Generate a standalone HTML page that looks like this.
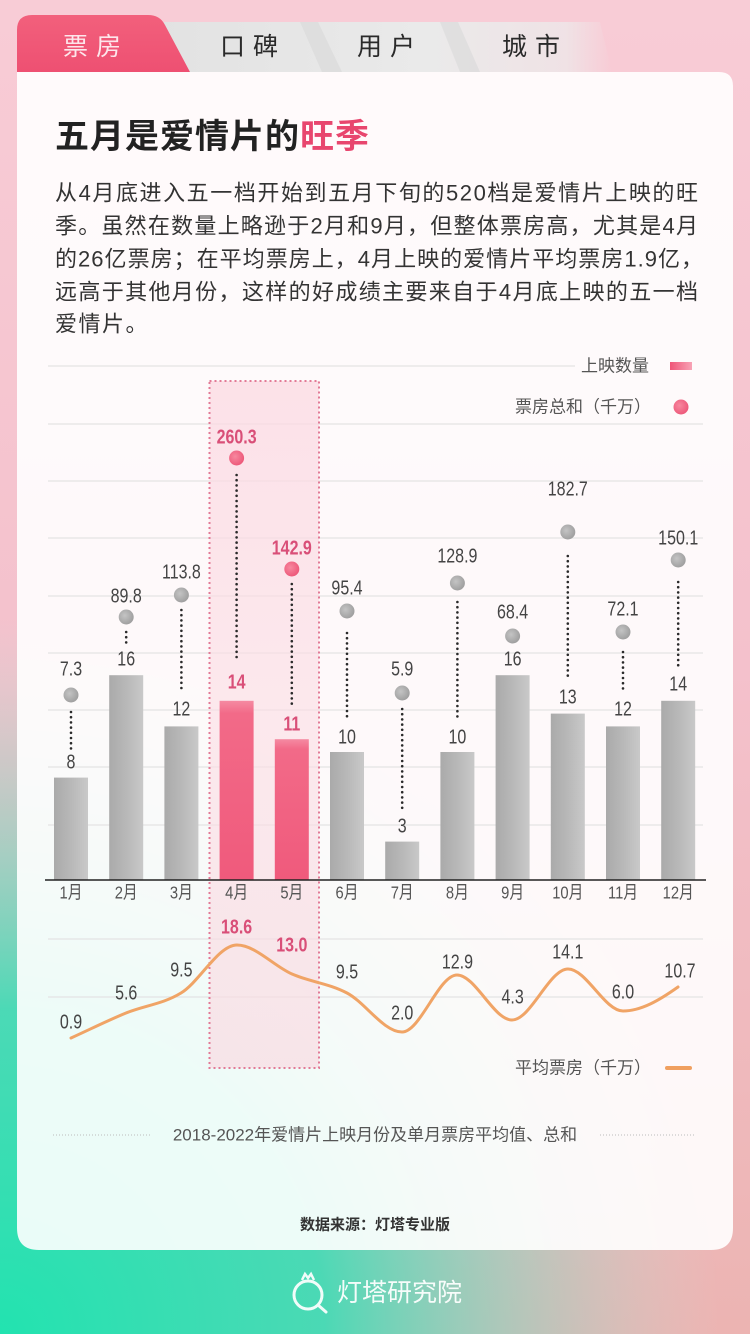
<!DOCTYPE html>
<html><head><meta charset="utf-8">
<style>
html,body{margin:0;padding:0;width:750px;height:1334px;overflow:hidden;}
svg{display:block;}
.cn{font-family:"Liberation Sans","Noto Sans CJK SC",sans-serif;}
.num{font-family:"Liberation Sans Narrow","Liberation Sans","Noto Sans CJK SC",sans-serif;}
</style></head>
<body>
<svg width="750" height="1334" viewBox="0 0 750 1334" xmlns="http://www.w3.org/2000/svg">
<defs>
  <linearGradient id="bg" x1="0" y1="0" x2="0" y2="1">
    <stop offset="0" stop-color="#f8ccd6"/>
    <stop offset="0.5" stop-color="#f4c1cc"/>
    <stop offset="1" stop-color="#ecb4b2"/>
  </linearGradient>
  <radialGradient id="teal" cx="0" cy="1334" r="720" gradientUnits="userSpaceOnUse">
    <stop offset="0" stop-color="#22e3b0" stop-opacity="1"/>
    <stop offset="0.45" stop-color="#3ddcb5" stop-opacity="0.92"/>
    <stop offset="0.8" stop-color="#8ad9c6" stop-opacity="0.35"/>
    <stop offset="1" stop-color="#bfe3d8" stop-opacity="0"/>
  </radialGradient>
  <linearGradient id="tabActive" x1="0" y1="0" x2="0" y2="1">
    <stop offset="0" stop-color="#f2607c"/>
    <stop offset="1" stop-color="#ee5072"/>
  </linearGradient>
  <linearGradient id="tabGray" x1="0" y1="0" x2="1" y2="0">
    <stop offset="0" stop-color="#e2e2e2"/>
    <stop offset="0.6" stop-color="#eaeaea"/>
    <stop offset="0.9" stop-color="#ececec" stop-opacity="0.7"/>
    <stop offset="1" stop-color="#eeeeee" stop-opacity="0"/>
  </linearGradient>
  <linearGradient id="gbar" x1="0" y1="0" x2="1" y2="0">
    <stop offset="0" stop-color="#aaaaaa"/>
    <stop offset="0.5" stop-color="#b8b8b8"/>
    <stop offset="1" stop-color="#c9c9c9"/>
  </linearGradient>
  <linearGradient id="pbar" x1="0" y1="0" x2="0" y2="1">
    <stop offset="0" stop-color="#f58aa2"/>
    <stop offset="0.07" stop-color="#f26a88"/>
    <stop offset="1" stop-color="#f05a7c"/>
  </linearGradient>
  <linearGradient id="psw" x1="0" y1="0" x2="1" y2="0">
    <stop offset="0" stop-color="#ef5578"/>
    <stop offset="1" stop-color="#f8a3b6"/>
  </linearGradient>
  <radialGradient id="gdot" cx="0.4" cy="0.4" r="0.7">
    <stop offset="0" stop-color="#c4c4c4"/>
    <stop offset="1" stop-color="#9a9a9a"/>
  </radialGradient>
  <radialGradient id="pdot" cx="0.4" cy="0.4" r="0.7">
    <stop offset="0" stop-color="#f7889f"/>
    <stop offset="1" stop-color="#ec5275"/>
  </radialGradient>
  <linearGradient id="boxfill" x1="0" y1="0" x2="0" y2="1">
    <stop offset="0" stop-color="#fcd9e2" stop-opacity="0.75"/>
    <stop offset="0.5" stop-color="#fbdde4" stop-opacity="0.6"/>
    <stop offset="1" stop-color="#f9dbe2" stop-opacity="0.7"/>
  </linearGradient>
</defs>

<!-- background -->
<rect x="0" y="0" width="750" height="1334" fill="url(#bg)"/>
<rect x="0" y="0" width="750" height="1334" fill="url(#teal)"/>

<!-- tabs -->
<path d="M150,22 L600,22 L612,72 L185,72 Z" fill="url(#tabGray)"/>
<path d="M300,22 L318,22 L342,72 L322,72 Z" fill="#d9d9d9" opacity="0.6"/>
<path d="M440,22 L458,22 L480,72 L460,72 Z" fill="#d9d9d9" opacity="0.6"/>
<path d="M17,72 L17,30 Q17,15 32,15 L148,15 Q160,15 165,25 L190,72 Z" fill="url(#tabActive)"/>
<g class="cn" font-size="25" dominant-baseline="central">
  <text x="63" y="47" fill="#fde6eb" letter-spacing="8">票房</text>
  <text x="220" y="47" fill="#2a2a2a" letter-spacing="8">口碑</text>
  <text x="357" y="47" fill="#2a2a2a" letter-spacing="8">用户</text>
  <text x="502" y="47" fill="#2a2a2a" letter-spacing="8">城市</text>
</g>

<!-- card -->
<path d="M17,72 L719,72 Q733,72 733,86 L733,1228 Q733,1250 711,1250 L39,1250 Q17,1250 17,1228 Z" fill="#ffffff" fill-opacity="0.9"/>

<!-- title -->
<text class="cn" x="55" y="137" font-size="34" font-weight="700" fill="#222" dominant-baseline="central" letter-spacing="1">五月是爱情片的<tspan fill="#e8466e">旺季</tspan></text>

<!-- paragraph -->
<g class="cn" font-size="22" fill="#333" dominant-baseline="central">
  <text x="55" y="193" textLength="643" lengthAdjust="spacing">从4月底进入五一档开始到五月下旬的520档是爱情片上映的旺</text>
  <text x="55" y="226" textLength="643" lengthAdjust="spacing">季。虽然在数量上略逊于2月和9月，但整体票房高，尤其是4月</text>
  <text x="55" y="259" textLength="648" lengthAdjust="spacing">的26亿票房；在平均票房上，4月上映的爱情片平均票房1.9亿，</text>
  <text x="55" y="292" textLength="643" lengthAdjust="spacing">远高于其他月份，这样的好成绩主要来自于4月底上映的五一档</text>
  <text x="55" y="324" letter-spacing="1.5">爱情片。</text>
</g>

<!-- gridlines -->
<g stroke="#e4e4e4" stroke-width="1.2">
  <line x1="48" y1="366" x2="575" y2="366"/>
  <line x1="48" y1="424" x2="703" y2="424"/>
  <line x1="48" y1="481" x2="703" y2="481"/>
  <line x1="48" y1="538" x2="703" y2="538"/>
  <line x1="48" y1="596" x2="703" y2="596"/>
  <line x1="48" y1="653" x2="703" y2="653"/>
  <line x1="48" y1="710" x2="703" y2="710"/>
  <line x1="48" y1="767" x2="703" y2="767"/>
  <line x1="48" y1="825" x2="703" y2="825"/>
  <line x1="48" y1="939" x2="703" y2="939"/>
  <line x1="48" y1="997" x2="703" y2="997"/>
</g>

<!-- highlight box -->
<rect x="209.5" y="381" width="109.5" height="687" fill="url(#boxfill)" stroke="#e27a96" stroke-width="2" stroke-dasharray="2 3"/>

<!-- legend -->
<g class="cn" font-size="17" fill="#555" dominant-baseline="central" text-anchor="end">
  <text x="649" y="366">上映数量</text>
  <text x="651" y="407">票房总和（千万）</text>
  <text x="651" y="1068">平均票房（千万）</text>
</g>
<rect x="670" y="362" width="22" height="8" fill="url(#psw)"/>
<circle cx="681" cy="407" r="7.5" fill="url(#pdot)"/>
<line x1="667" y1="1068" x2="690" y2="1068" stroke="#f0a060" stroke-width="4" stroke-linecap="round"/>

<!-- bars -->
<g>
  <rect x="54" y="777.6" width="34" height="102.4" fill="url(#gbar)"/>
  <rect x="109.2" y="675.2" width="34" height="204.8" fill="url(#gbar)"/>
  <rect x="164.4" y="726.4" width="34" height="153.6" fill="url(#gbar)"/>
  <rect x="219.6" y="700.8" width="34" height="179.2" fill="url(#pbar)"/>
  <rect x="274.8" y="739.2" width="34" height="140.8" fill="url(#pbar)"/>
  <rect x="330" y="752" width="34" height="128" fill="url(#gbar)"/>
  <rect x="385.2" y="841.6" width="34" height="38.4" fill="url(#gbar)"/>
  <rect x="440.4" y="752" width="34" height="128" fill="url(#gbar)"/>
  <rect x="495.6" y="675.2" width="34" height="204.8" fill="url(#gbar)"/>
  <rect x="550.8" y="713.6" width="34" height="166.4" fill="url(#gbar)"/>
  <rect x="606" y="726.4" width="34" height="153.6" fill="url(#gbar)"/>
  <rect x="661.2" y="700.8" width="34" height="179.2" fill="url(#gbar)"/>
</g>

<!-- baseline -->
<line x1="45" y1="880" x2="706" y2="880" stroke="#222" stroke-width="1.6"/>

<!-- dotted connectors -->
<g stroke="#2a2a2a" stroke-width="2.6" stroke-linecap="round" stroke-dasharray="0 5.2">
  <line x1="71" y1="712" x2="71" y2="750"/>
  <line x1="126.2" y1="632" x2="126.2" y2="644"/>
  <line x1="181.4" y1="610" x2="181.4" y2="693"/>
  <line x1="236.6" y1="475" x2="236.6" y2="662"/>
  <line x1="291.8" y1="584" x2="291.8" y2="708"/>
  <line x1="347" y1="633" x2="347" y2="719"/>
  <line x1="402.2" y1="709" x2="402.2" y2="808"/>
  <line x1="457.4" y1="602" x2="457.4" y2="720"/>
  <line x1="567.8" y1="556" x2="567.8" y2="678"/>
  <line x1="623" y1="652" x2="623" y2="690"/>
  <line x1="678.2" y1="582" x2="678.2" y2="666"/>
</g>

<!-- dots -->
<g fill="url(#gdot)">
  <circle cx="71" cy="695" r="7.5"/>
  <circle cx="126.2" cy="617" r="7.5"/>
  <circle cx="181.4" cy="595" r="7.5"/>
  <circle cx="347" cy="611" r="7.5"/>
  <circle cx="402.2" cy="693" r="7.5"/>
  <circle cx="457.4" cy="583" r="7.5"/>
  <circle cx="512.6" cy="636" r="7.5"/>
  <circle cx="567.8" cy="532" r="7.5"/>
  <circle cx="623" cy="632" r="7.5"/>
  <circle cx="678.2" cy="560" r="7.5"/>
</g>
<circle cx="236.6" cy="458" r="7.5" fill="url(#pdot)"/>
<circle cx="291.8" cy="569" r="7.5" fill="url(#pdot)"/>

<!-- number labels (condensed) -->
<g class="num" font-size="20" fill="#444" text-anchor="middle" dominant-baseline="central">
  <text transform="translate(71 669) scale(0.8 1)">7.3</text>
  <text transform="translate(126.2 596) scale(0.8 1)">89.8</text>
  <text transform="translate(181.4 572) scale(0.8 1)">113.8</text>
  <text transform="translate(347 588) scale(0.8 1)">95.4</text>
  <text transform="translate(402.2 669) scale(0.8 1)">5.9</text>
  <text transform="translate(457.4 556) scale(0.8 1)">128.9</text>
  <text transform="translate(512.6 612) scale(0.8 1)">68.4</text>
  <text transform="translate(567.8 489) scale(0.8 1)">182.7</text>
  <text transform="translate(623 609) scale(0.8 1)">72.1</text>
  <text transform="translate(678.2 538) scale(0.8 1)">150.1</text>
  <text transform="translate(71 762) scale(0.8 1)">8</text>
  <text transform="translate(126.2 659) scale(0.8 1)">16</text>
  <text transform="translate(181.4 709) scale(0.8 1)">12</text>
  <text transform="translate(347 737) scale(0.8 1)">10</text>
  <text transform="translate(402.2 826) scale(0.8 1)">3</text>
  <text transform="translate(457.4 737) scale(0.8 1)">10</text>
  <text transform="translate(512.6 659) scale(0.8 1)">16</text>
  <text transform="translate(567.8 697) scale(0.8 1)">13</text>
  <text transform="translate(623 709) scale(0.8 1)">12</text>
  <text transform="translate(678.2 684) scale(0.8 1)">14</text>
  <text transform="translate(71 1022) scale(0.8 1)">0.9</text>
  <text transform="translate(126.2 993) scale(0.8 1)">5.6</text>
  <text transform="translate(181.4 970) scale(0.8 1)">9.5</text>
  <text transform="translate(347 972) scale(0.8 1)">9.5</text>
  <text transform="translate(402.2 1013) scale(0.8 1)">2.0</text>
  <text transform="translate(457.4 962) scale(0.8 1)">12.9</text>
  <text transform="translate(512.6 997) scale(0.8 1)">4.3</text>
  <text transform="translate(567.8 952) scale(0.8 1)">14.1</text>
  <text transform="translate(623 992) scale(0.8 1)">6.0</text>
  <text transform="translate(680 971) scale(0.8 1)">10.7</text>
</g>
<g class="num" font-size="20" font-weight="700" fill="#d94f78" text-anchor="middle" dominant-baseline="central">
  <text transform="translate(236.6 437) scale(0.8 1)">260.3</text>
  <text transform="translate(291.8 548) scale(0.8 1)">142.9</text>
  <text transform="translate(236.6 682) scale(0.8 1)">14</text>
  <text transform="translate(291.8 724) scale(0.8 1)">11</text>
  <text transform="translate(236.6 927) scale(0.8 1)">18.6</text>
  <text transform="translate(291.8 945) scale(0.8 1)">13.0</text>
</g>

<!-- month labels -->
<g class="num" font-size="18" fill="#555" text-anchor="middle" dominant-baseline="central">
  <text transform="translate(71 893) scale(0.82 1)">1月</text>
  <text transform="translate(126.2 893) scale(0.82 1)">2月</text>
  <text transform="translate(181.4 893) scale(0.82 1)">3月</text>
  <text transform="translate(236.6 893) scale(0.82 1)">4月</text>
  <text transform="translate(291.8 893) scale(0.82 1)">5月</text>
  <text transform="translate(347 893) scale(0.82 1)">6月</text>
  <text transform="translate(402.2 893) scale(0.82 1)">7月</text>
  <text transform="translate(457.4 893) scale(0.82 1)">8月</text>
  <text transform="translate(512.6 893) scale(0.82 1)">9月</text>
  <text transform="translate(567.8 893) scale(0.82 1)">10月</text>
  <text transform="translate(623 893) scale(0.82 1)">11月</text>
  <text transform="translate(678.2 893) scale(0.82 1)">12月</text>
</g>

<!-- avg line -->
<path d="M71,1038 C89.3,1029.7 107.7,1020.5 126,1013 C144.3,1005.5 162.7,1004.2 181,993 C199.7,981.6 218.3,945 237,945 C255.3,945 273.7,966 292,974 C310.3,982 328.7,983.3 347,993 C365.3,1002.7 383.7,1032 402,1032 C420.3,1032 438.7,975 457,975 C475.3,975 493.7,1020 512,1020 C530.7,1020 549.3,969 568,969 C586.3,969 604.7,1011 623,1011 C641.3,1011 659.7,1000 678,987" fill="none" stroke="#f0a466" stroke-width="3" stroke-linecap="round"/>

<!-- caption -->
<line x1="53" y1="1135" x2="150" y2="1135" stroke="#bbb" stroke-width="1" stroke-dasharray="1 2"/>
<line x1="600" y1="1135" x2="695" y2="1135" stroke="#bbb" stroke-width="1" stroke-dasharray="1 2"/>
<text class="cn" x="375" y="1135" font-size="17" fill="#555" text-anchor="middle" dominant-baseline="central">2018-2022年爱情片上映月份及单月票房平均值、总和</text>

<!-- source -->
<text class="cn" x="375" y="1225" font-size="15" font-weight="700" fill="#333" text-anchor="middle" dominant-baseline="central">数据来源：灯塔专业版</text>

<!-- logo -->
<g stroke="#ffffff" fill="none" stroke-width="3" opacity="0.92">
  <circle cx="308" cy="1295" r="14"/>
  <line x1="318" y1="1305" x2="326" y2="1312" stroke-linecap="round"/>
  <path d="M302,1280 L305,1274 L308,1278 L311,1274 L314,1280" stroke-width="2.5"/>
</g>
<text class="cn" x="337" y="1293" font-size="25" fill="#ffffff" fill-opacity="0.93" dominant-baseline="central">灯塔研究院</text>
</svg>
</body></html>
